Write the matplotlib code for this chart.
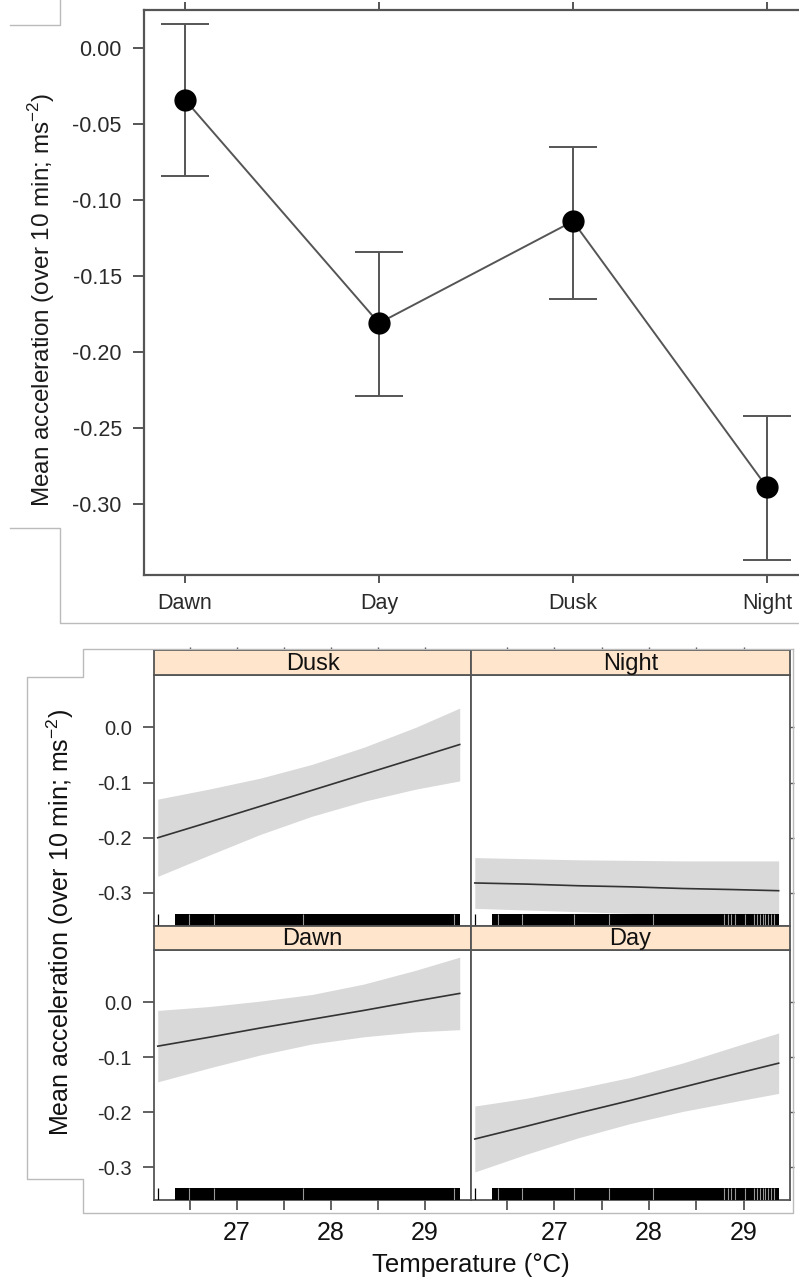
import numpy as np
import matplotlib
matplotlib.use("Agg")
import matplotlib.pyplot as plt
from matplotlib.lines import Line2D

plt.rcParams['font.family'] = ['Liberation Sans', 'DejaVu Sans']
plt.rcParams['axes.unicode_minus'] = False
plt.rcParams['mathtext.fontset'] = 'custom'
plt.rcParams['mathtext.rm'] = 'Liberation Sans'

# ---- top panel: mean acceleration by time of day
periods = ['Dawn', 'Day', 'Dusk', 'Night']
mean_acc = [-0.034, -0.181, -0.114, -0.289]
ci_low = [-0.084, -0.229, -0.165, -0.337]
ci_high = [0.016, -0.134, -0.065, -0.242]
top_yticks = [0.00, -0.05, -0.10, -0.15, -0.20, -0.25, -0.30]

# ---- bottom panels: temperature effect per period (fit line + 95% band)
temp_pts = [26.16, 26.7, 27.25, 27.8, 28.35, 28.9, 29.37]
dusk_fit = [-0.200, -0.172, -0.143, -0.114, -0.085, -0.056, -0.031]
dusk_lo = [-0.270, -0.232, -0.194, -0.161, -0.134, -0.112, -0.097]
dusk_hi = [-0.130, -0.112, -0.092, -0.067, -0.036, 0.000, 0.035]
night_fit = [-0.282, -0.284, -0.287, -0.289, -0.292, -0.294, -0.296]
night_lo = [-0.328, -0.331, -0.334, -0.337, -0.341, -0.346, -0.350]
night_hi = [-0.236, -0.238, -0.240, -0.241, -0.242, -0.242, -0.242]
dawn_fit = [-0.080, -0.064, -0.047, -0.031, -0.015, 0.002, 0.016]
dawn_lo = [-0.145, -0.120, -0.096, -0.076, -0.063, -0.054, -0.050]
dawn_hi = [-0.015, -0.008, 0.002, 0.014, 0.033, 0.058, 0.082]
day_fit = [-0.249, -0.226, -0.202, -0.179, -0.155, -0.131, -0.111]
day_lo = [-0.309, -0.277, -0.247, -0.221, -0.199, -0.181, -0.166]
day_hi = [-0.189, -0.175, -0.157, -0.137, -0.111, -0.081, -0.056]

# rug of observed temperatures
rug_single = [26.16]
rug_span = (26.34, 29.37)
rug_gaps_left = [26.49, 26.76, 27.70, 29.31]
rug_gaps_right = [26.41, 26.66, 27.21, 27.58, 28.04, 28.79, 28.83, 28.87, 28.91,
                  29.01, 29.11, 29.14, 29.17, 29.20, 29.23, 29.26, 29.29, 29.32]

bot_yticks = [0.0, -0.1, -0.2, -0.3]
temp_major = [27, 28, 29]
temp_minor = [26.5, 27.5, 28.5]

W, H = 799, 1285
fig = plt.figure(figsize=(W / 100, H / 100), dpi=100)


def fx(px):
    return px / W


def fy(py):
    return 1 - py / H


def frame_line(pts):
    xs = [fx(p[0]) for p in pts]
    ys = [fy(p[1]) for p in pts]
    fig.add_artist(Line2D(xs, ys, transform=fig.transFigure, color='#bbbbbb', lw=1))


# panel frames left from the original figure composition
frame_line([(10, 25), (60, 25), (60, 0)])
frame_line([(10, 528), (60, 528), (60, 623), (799, 623)])
frame_line([(793, 649), (83, 649), (83, 677), (27, 677), (27, 1179),
            (83, 1179), (83, 1213), (793, 1213), (793, 649)])

# ---------------- top plot
ax = fig.add_axes([fx(144), fy(575), fx(799 - 144), (575 - 10) / H])
xpos = np.arange(len(periods))
mean_acc = np.array(mean_acc)
yerr = [mean_acc - np.array(ci_low), np.array(ci_high) - mean_acc]
ax.errorbar(xpos, mean_acc, yerr=yerr, fmt='-o', color='#555555', lw=1.4,
            mfc='black', mec='black', ms=15, capsize=17, elinewidth=1.4,
            capthick=1.4, zorder=3)
ax.set_xlim(-0.211, (799 - 185) / 194)
ax.set_ylim(-0.3467, 0.025)
ax.set_xticks(xpos)
ax.set_xticklabels(periods)
ax.set_yticks(top_yticks)
ax.set_yticklabels(['%.2f' % v for v in top_yticks])
ax.spines['right'].set_visible(False)
for s in ['left', 'bottom', 'top']:
    ax.spines[s].set_color('#555555')
    ax.spines[s].set_linewidth(1.6)
ax.tick_params(axis='y', length=8, width=1.4, color='#555555', labelsize=15.5,
               labelcolor='#2a2a2a', pad=8)
ax.tick_params(axis='x', length=6, width=1.4, color='#555555', labelsize=15.5,
               labelcolor='#2a2a2a', pad=7, top=True)
fig.text(fx(42), fy(300), r'Mean acceleration (over 10 min; ms$^{\mathregular{-2}}$)',
         rotation=90, ha='center', va='center', fontsize=17.5, color='#1a1a1a')

# ---------------- bottom lattice
panels = [
    ('Dusk', 0, 0, dusk_fit, dusk_lo, dusk_hi),
    ('Night', 0, 1, night_fit, night_lo, night_hi),
    ('Dawn', 1, 0, dawn_fit, dawn_lo, dawn_hi),
    ('Day', 1, 1, day_fit, day_lo, day_hi),
]
col_x = [(154, 471), (471, 790)]
row_y = [(650, 675, 926), (926, 950, 1200)]
xlim = (26.12, 29.49)
ylim = (-0.36, 0.095)

for name, r, c, fit, lo, hi in panels:
    x0, x1 = col_x[c]
    s0, p0, p1 = row_y[r]
    pax = fig.add_axes([fx(x0), fy(p1), fx(x1 - x0), (p1 - p0) / H])
    sax = fig.add_axes([fx(x0), fy(p0), fx(x1 - x0), (p0 - s0) / H])

    pax.fill_between(temp_pts, lo, hi, color='#d9d9d9', lw=0, zorder=1)
    pax.plot(temp_pts, fit, color='#333333', lw=1.2, zorder=2)

    # rug
    tr = pax.get_xaxis_transform()
    pax.fill_between(rug_span, 0, 0.048, transform=tr, color='black', lw=0, zorder=3)
    pax.vlines(rug_single, 0, 0.048, transform=tr, color='black', lw=0.9, zorder=3)
    gaps = rug_gaps_left if c == 0 else rug_gaps_right
    pax.vlines(gaps, 0, 0.048, transform=tr, color='white', lw=0.8, alpha=0.6, zorder=4)

    pax.set_xlim(xlim)
    pax.set_ylim(ylim)
    for sp in pax.spines.values():
        sp.set_color('#555555')
        sp.set_linewidth(1.3)
    pax.set_yticks(bot_yticks)
    if c == 0:
        pax.set_yticklabels(['%.1f' % v for v in bot_yticks])
        pax.tick_params(axis='y', left=True, right=False, length=8, width=1.3,
                        color='#555555', labelsize=14.5, labelcolor='#2a2a2a', pad=8)
    else:
        pax.tick_params(axis='y', left=False, right=True, labelleft=False,
                        length=3, width=1.0, color='#555555')
    pax.set_xticks(temp_major)
    pax.set_xticks(temp_minor, minor=True)
    if r == 1:
        pax.set_xticklabels([str(v) for v in temp_major])
        pax.tick_params(axis='x', which='both', length=7, width=1.3, color='#555555',
                        labelsize=18, labelcolor='#111111', pad=8)
    else:
        pax.tick_params(axis='x', which='both', bottom=False, labelbottom=False)

    sax.set_facecolor('#ffe5cc')
    sax.set_xlim(xlim)
    sax.set_yticks([])
    for sp in sax.spines.values():
        sp.set_color('#555555')
        sp.set_linewidth(1.3)
    if r == 0:
        sax.set_xticks(temp_major)
        sax.set_xticks(temp_minor, minor=True)
        sax.tick_params(axis='x', which='both', top=True, bottom=False,
                        labelbottom=False, length=2.5, width=1.0, color='#555555')
    else:
        sax.set_xticks([])
    sax.text(0.5, 0.45, name, transform=sax.transAxes, ha='center', va='center',
             fontsize=17, color='#111111')

fig.text(fx(471), fy(1265), 'Temperature (°C)', ha='center', va='center',
         fontsize=18.5, color='#111111')
fig.text(fx(60), fy(922), r'Mean acceleration (over 10 min; ms$^{\mathregular{-2}}$)',
         rotation=90, ha='center', va='center', fontsize=18, color='#111111')

fig.savefig('out.png', dpi=100)
